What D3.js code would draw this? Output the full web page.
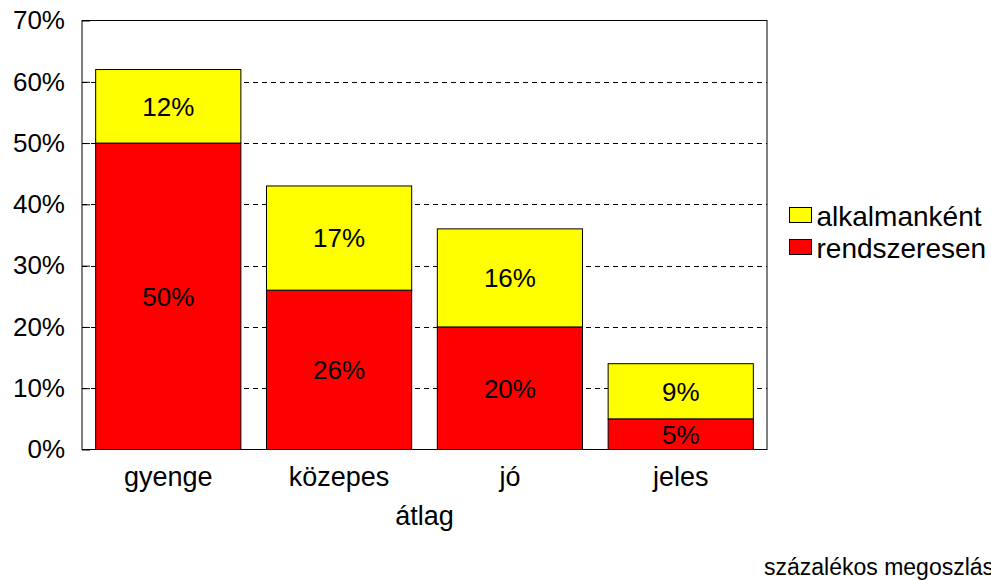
<!DOCTYPE html>
<html>
<head>
<meta charset="utf-8">
<script src="https://cdn.jsdelivr.net/npm/d3@7/dist/d3.min.js"></script>
<style>
	body { margin: 0; background: #fff; }
	svg { display: block; font-family: "Liberation Sans", Arial, sans-serif; }
</style>
</head>
<body>
<svg id="chart" width="991" height="580"></svg>
<script>
const categories = ["gyenge", "közepes", "jó", "jeles"];
const rendszeresen = [50, 26, 20, 5];
const alkalmankent = [12, 17, 16, 9];
const seriesNames = ["alkalmanként", "rendszeresen"];
const yTicks = [0, 10, 20, 30, 40, 50, 60, 70];

const svg = d3.select("#chart");
const plot = { left: 82, top: 20.5, right: 767, bottom: 449.5 };

const x = d3.scaleBand()
	.domain(categories)
	.range([plot.left, plot.right])
	.paddingInner(0.15)
	.paddingOuter(0.08);

const y = d3.scaleLinear().domain([0, 70]).range([plot.bottom, plot.top]);

// dashed grid
svg.append("g")
	.selectAll("line")
	.data(yTicks.filter(t => t > 0 && t < 70))
	.enter()
	.append("line")
	.attr("x1", plot.left)
	.attr("x2", plot.right)
	.attr("y1", d => Math.round(y(d)) + 0.5)
	.attr("y2", d => Math.round(y(d)) + 0.5)
	.attr("stroke", "#000")
	.attr("stroke-dasharray", "5,4");

// plot border
svg.append("rect")
	.attr("x", plot.left)
	.attr("y", plot.top)
	.attr("width", plot.right - plot.left)
	.attr("height", plot.bottom - plot.top)
	.attr("fill", "none")
	.attr("stroke", "#000");

// y axis, ticks pointing inwards
const yAxis = d3.axisLeft(y)
	.tickValues(yTicks)
	.tickFormat(d => d + "%")
	.tickSizeInner(-8)
	.tickSizeOuter(0)
	.tickPadding(17);

const gy = svg.append("g")
	.attr("transform", "translate(" + plot.left + ",0)")
	.call(yAxis);
gy.select(".domain").remove();
gy.selectAll("text")
	.attr("font-size", 26)
	.attr("font-family", "Liberation Sans, Arial, sans-serif")
	.attr("fill", "#000");
gy.selectAll("line").attr("stroke", "#000");

// stacked bars
const rows = categories.map((c, i) => ({ cat: c, r: rendszeresen[i], a: alkalmankent[i] }));
const stack = d3.stack().keys(["r", "a"])(rows);
const colors = { r: "#ff0000", a: "#ffff00" };

const layers = svg.append("g").classed("bars", true)
	.selectAll("g")
	.data(stack)
	.enter()
	.append("g")
	.attr("fill", d => colors[d.key]);

layers.selectAll("rect")
	.data(d => d)
	.enter()
	.append("rect")
	.attr("x", d => x(d.data.cat))
	.attr("y", d => y(d[1]))
	.attr("width", x.bandwidth())
	.attr("height", d => y(d[0]) - y(d[1]))
	.attr("stroke", "#000")
	.attr("stroke-width", 1);

layers.selectAll("text")
	.data(d => d)
	.enter()
	.append("text")
	.attr("x", d => x(d.data.cat) + x.bandwidth() / 2)
	.attr("y", d => y((d[0] + d[1]) / 2))
	.attr("dy", "0.36em")
	.attr("text-anchor", "middle")
	.attr("font-size", 26)
	.attr("fill", "#000")
	.text(d => (d[1] - d[0]) + "%");

// x axis labels
const xAxis = d3.axisBottom(x).tickSize(0).tickPadding(17);
const gx = svg.append("g")
	.attr("transform", "translate(0," + plot.bottom + ")")
	.call(xAxis);
gx.select(".domain").remove();
gx.selectAll("text")
	.attr("font-size", 27)
	.attr("font-family", "Liberation Sans, Arial, sans-serif")
	.attr("fill", "#000");

svg.append("text")
	.attr("x", (plot.left + plot.right) / 2)
	.attr("y", 525)
	.attr("text-anchor", "middle")
	.attr("font-size", 27)
	.text("átlag");

// legend
const legend = svg.append("g").attr("transform", "translate(789.5,207.5)");
const legendItems = legend.selectAll("g")
	.data(seriesNames)
	.enter()
	.append("g")
	.attr("transform", (d, i) => "translate(0," + i * 32 + ")");
legendItems.append("rect")
	.attr("width", 22)
	.attr("height", 15)
	.attr("fill", (d, i) => i === 0 ? colors.a : colors.r)
	.attr("stroke", "#000");
legendItems.append("text")
	.attr("x", 27)
	.attr("y", 8)
	.attr("dy", "0.36em")
	.attr("font-size", 28)
	.text(d => d);

svg.append("text")
	.attr("x", 764)
	.attr("y", 575)
	.attr("font-size", 23)
	.text("százalékos megoszlás");
</script>
</body>
</html>
